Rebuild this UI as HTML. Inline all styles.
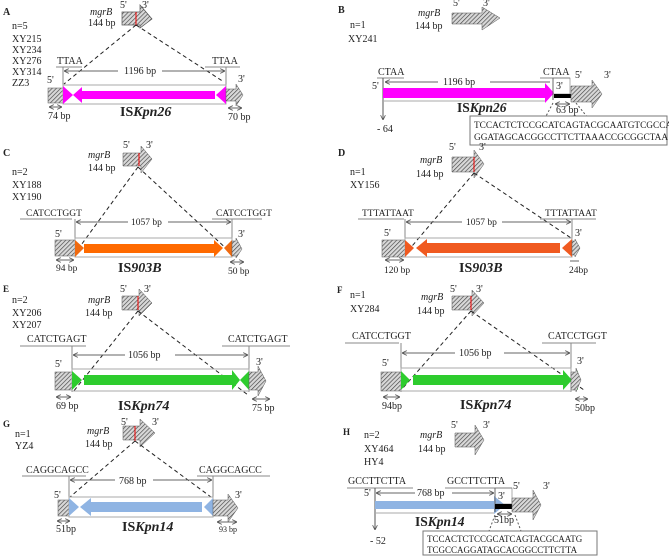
<!DOCTYPE html>
<html><head><meta charset="utf-8"><style>
html,body{margin:0;padding:0;background:#fff}
svg{display:block}
text{font-family:"Liberation Serif",serif;fill:#222}
</style></head><body>
<svg width="669" height="556" viewBox="0 0 669 556" xmlns="http://www.w3.org/2000/svg">
<defs>
<pattern id="h" width="3" height="3" patternUnits="userSpaceOnUse" patternTransform="rotate(45)">
<rect width="3" height="3" fill="#d8d8d8"/><line x1="0" y1="0" x2="0" y2="3" stroke="#444" stroke-width="1.3"/>
</pattern>
<marker id="a" viewBox="0 0 6 6" refX="6" refY="3" markerWidth="5" markerHeight="5" orient="auto-start-reverse"><path d="M0,0 L6,3 L0,6" fill="none" stroke="#555" stroke-width="1"/></marker>
</defs>
<g font-size="10">
<!-- ===== A ===== -->
<text x="3" y="15" font-weight="bold" font-size="10">A</text>
<text x="12" y="29">n=5</text>
<text x="12" y="42">XY215</text><text x="12" y="53">XY234</text><text x="12" y="64">XY276</text><text x="12" y="75">XY314</text><text x="12" y="86">ZZ3</text>
<text x="90" y="15" font-style="italic">mgrB</text><text x="88" y="26">144 bp</text>
<text x="120" y="8">5'</text><text x="142" y="8">3'</text>
<polygon points="122,12 140,12 140,5 152,19 140,28 140,25 122,25" fill="url(#h)" stroke="#555" stroke-width="0.7"/>
<line x1="136" y1="12" x2="136" y2="26" stroke="#e00" stroke-width="1"/>
<line x1="136" y1="25" x2="64" y2="84" stroke="#222" stroke-dasharray="4,3"/>
<line x1="136" y1="25" x2="224" y2="82" stroke="#222" stroke-dasharray="4,3"/>
<text x="57" y="64">TTAA</text><line x1="56" y1="67" x2="82" y2="67" stroke="#888"/>
<text x="212" y="64">TTAA</text><line x1="205" y1="67" x2="240" y2="67" stroke="#888"/>
<line x1="63" y1="67" x2="63" y2="104" stroke="#888"/><line x1="226" y1="67" x2="226" y2="104" stroke="#888"/>
<line x1="64" y1="71" x2="118" y2="71" stroke="#666" marker-start="url(#a)"/><line x1="162" y1="71" x2="225" y2="71" stroke="#666" marker-end="url(#a)"/>
<text x="124" y="74">1196 bp</text>
<text x="47" y="83">5'</text><text x="238" y="82">3'</text>
<rect x="48" y="88" width="15" height="15" fill="url(#h)" stroke="#555" stroke-width="0.5"/>
<rect x="63" y="85" width="163" height="19" fill="none" stroke="#aaa"/>
<polygon points="63,86 73,95 63,104" fill="#f0f"/>
<polygon points="73,95 82,87 82,91 215,91 215,99 82,99 82,103" fill="#f0f"/>
<polygon points="226,86 216,95 226,104" fill="#f0f"/>
<polygon points="226,89 236,89 236,84 243,95 236,106 236,101 226,101" fill="url(#h)" stroke="#555" stroke-width="0.5"/>
<line x1="49" y1="107" x2="62" y2="107" stroke="#666" marker-start="url(#a)" marker-end="url(#a)"/>
<line x1="228" y1="108" x2="242" y2="108" stroke="#666" marker-start="url(#a)" marker-end="url(#a)"/>
<text x="48" y="119">74 bp</text><text x="228" y="120">70 bp</text>
<text x="120" y="116" font-size="14" font-weight="bold">IS<tspan font-style="italic">Kpn26</tspan></text>

<!-- ===== B ===== -->
<text x="338" y="13" font-weight="bold">B</text>
<text x="350" y="28">n=1</text><text x="348" y="42">XY241</text>
<text x="418" y="16" font-style="italic">mgrB</text><text x="415" y="29">144 bp</text>
<text x="453" y="6">5'</text><text x="483" y="6">3'</text>
<polygon points="452,13 482,13 482,7 500,18 482,30 482,24 452,24" fill="url(#h)" stroke="#555" stroke-width="0.5"/>
<text x="378" y="75">CTAA</text><line x1="377" y1="78" x2="404" y2="78" stroke="#888"/>
<text x="543" y="75">CTAA</text><line x1="540" y1="78" x2="570" y2="78" stroke="#888"/>
<text x="372" y="89">5'</text>
<line x1="383" y1="78" x2="383" y2="120" stroke="#555" marker-end="url(#a)"/>
<text x="377" y="132">- 64</text>
<line x1="385" y1="82" x2="438" y2="82" stroke="#666" marker-start="url(#a)"/><line x1="490" y1="82" x2="550" y2="82" stroke="#666"/>
<text x="443" y="85">1196 bp</text>
<polygon points="383,88 545,88 545,83 554,93 545,103 545,98 383,98" fill="#f0f"/>
<line x1="383" y1="101" x2="545" y2="101" stroke="#aaa"/>
<line x1="553" y1="78" x2="553" y2="100" stroke="#555"/>
<rect x="553" y="78" width="17" height="16" fill="none" stroke="#777" stroke-width="0.6"/>
<text x="556" y="89">3'</text>
<rect x="554" y="94" width="17" height="4" fill="#000"/>
<text x="575" y="78">5'</text><text x="604" y="78">3'</text>
<polygon points="571,86 592,86 592,80 602,94 592,108 592,102 571,102" fill="url(#h)" stroke="#555" stroke-width="0.5"/>
<line x1="555" y1="104" x2="570" y2="104" stroke="#666" marker-start="url(#a)" marker-end="url(#a)"/>
<text x="556" y="113">63 bp</text>
<line x1="553" y1="103" x2="545" y2="118" stroke="#555" stroke-dasharray="2,2"/>
<line x1="576" y1="103" x2="588" y2="118" stroke="#555" stroke-dasharray="2,2"/>
<text x="457" y="112" font-size="13.5" font-weight="bold">IS<tspan font-style="italic">Kpn26</tspan></text>
<rect x="470" y="116" width="197" height="29" fill="#fff" stroke="#777"/>
<text x="474" y="128" font-size="9.3">TCCACTCTCCGCATCAGTACGCAATGTCGCCA</text>
<text x="474" y="140" font-size="9.3">GGATAGCACGGCCTTCTTAAACCGCGGCTAA</text>

<!-- ===== C ===== -->
<text x="3" y="156" font-weight="bold">C</text>
<text x="12" y="175">n=2</text><text x="12" y="188">XY188</text><text x="12" y="200">XY190</text>
<text x="88" y="158" font-style="italic">mgrB</text><text x="88" y="171">144 bp</text>
<text x="123" y="148">5'</text><text x="146" y="148">3'</text>
<polygon points="123,153 141,153 141,146 152,159 141,173 141,166 123,166" fill="url(#h)" stroke="#555" stroke-width="0.5"/>
<line x1="139" y1="153" x2="139" y2="166" stroke="#e00"/>
<line x1="138" y1="167" x2="76" y2="252" stroke="#222" stroke-dasharray="4,3"/>
<line x1="138" y1="167" x2="230" y2="252" stroke="#222" stroke-dasharray="4,3"/>
<text x="26" y="216" font-size="9.5">CATCCTGGT</text><line x1="20" y1="219" x2="72" y2="219" stroke="#888"/>
<text x="216" y="216" font-size="9.5">CATCCTGGT</text><line x1="212" y1="219" x2="262" y2="219" stroke="#888"/>
<line x1="75" y1="219" x2="75" y2="257" stroke="#888"/><line x1="232" y1="219" x2="232" y2="257" stroke="#888"/>
<line x1="76" y1="222" x2="128" y2="222" stroke="#666" marker-start="url(#a)"/><line x1="168" y1="222" x2="231" y2="222" stroke="#666" marker-end="url(#a)"/>
<text x="131" y="225" font-size="9.5">1057 bp</text>
<text x="55" y="237">5'</text><text x="238" y="237">3'</text>
<rect x="55" y="240" width="20" height="16" fill="url(#h)" stroke="#555" stroke-width="0.5"/>
<rect x="75" y="238" width="157" height="19" fill="none" stroke="#aaa"/>
<polygon points="75,240 84,248 75,257" fill="#f06a10"/>
<polygon points="84,244 214,244 214,240 223,248 214,257 214,253 84,253" fill="#ff6a00"/>
<polygon points="232,240 224,248 232,257" fill="#f06a10"/>
<polygon points="232,241 236,241 236,238 242,249 236,258 236,256 232,256" fill="url(#h)" stroke="#555" stroke-width="0.5"/>
<line x1="56" y1="260" x2="74" y2="260" stroke="#666" marker-start="url(#a)" marker-end="url(#a)"/>
<line x1="230" y1="262" x2="244" y2="262" stroke="#666" marker-start="url(#a)" marker-end="url(#a)"/>
<text x="56" y="271" font-size="9.5">94 bp</text><text x="228" y="274" font-size="9.5">50 bp</text>
<text x="118" y="272" font-size="14" font-weight="bold">IS<tspan font-style="italic">903B</tspan></text>

<!-- ===== D ===== -->
<text x="338" y="156" font-weight="bold">D</text>
<text x="350" y="175">n=1</text><text x="350" y="188">XY156</text>
<text x="420" y="163" font-style="italic">mgrB</text><text x="416" y="177">144 bp</text>
<text x="449" y="150">5'</text><text x="479" y="150">3'</text>
<polygon points="452,157 474,157 474,150 484,164 474,178 474,172 452,172" fill="url(#h)" stroke="#555" stroke-width="0.5"/>
<line x1="474" y1="157" x2="474" y2="172" stroke="#e00"/>
<line x1="474" y1="173" x2="407" y2="252" stroke="#222" stroke-dasharray="4,3"/>
<line x1="474" y1="173" x2="571" y2="238" stroke="#222" stroke-dasharray="4,3"/>
<text x="362" y="216" font-size="9.5">TTTATTAAT</text><line x1="358" y1="219" x2="404" y2="219" stroke="#888"/>
<text x="545" y="216" font-size="9.5">TTTATTAAT</text><line x1="540" y1="219" x2="596" y2="219" stroke="#888"/>
<line x1="405" y1="219" x2="405" y2="257" stroke="#888"/><line x1="572" y1="219" x2="572" y2="257" stroke="#888"/>
<line x1="406" y1="222" x2="462" y2="222" stroke="#666" marker-start="url(#a)"/><line x1="502" y1="222" x2="571" y2="222" stroke="#666" marker-end="url(#a)"/>
<text x="466" y="225" font-size="9.5">1057 bp</text>
<text x="384" y="236">5'</text><text x="575" y="236">3'</text>
<rect x="382" y="240" width="23" height="17" fill="url(#h)" stroke="#555" stroke-width="0.5"/>
<rect x="405" y="238" width="167" height="19" fill="none" stroke="#aaa"/>
<polygon points="405,240 414,248 405,257" fill="#f05a20"/>
<polygon points="416,248 427,239 427,243 560,243 560,253 427,253 427,257" fill="#f05a20"/>
<polygon points="572,239 562,248 572,257" fill="#f05a20"/>
<polygon points="572,241 575,241 575,239 580,248 575,257 575,255 572,255" fill="url(#h)" stroke="#555" stroke-width="0.5"/>
<line x1="385" y1="260" x2="404" y2="260" stroke="#666" marker-start="url(#a)" marker-end="url(#a)"/>
<line x1="570" y1="261" x2="579" y2="261" stroke="#666"/>
<text x="384" y="273" font-size="9.5">120 bp</text><text x="569" y="273" font-size="9.5">24bp</text>
<text x="459" y="272" font-size="14" font-weight="bold">IS<tspan font-style="italic">903B</tspan></text>

<!-- ===== E ===== -->
<text x="3" y="292" font-weight="bold" font-size="9">E</text>
<text x="12" y="303">n=2</text><text x="12" y="316">XY206</text><text x="12" y="328">XY207</text>
<text x="88" y="303" font-style="italic">mgrB</text><text x="85" y="316">144 bp</text>
<text x="120" y="292">5'</text><text x="144" y="292">3'</text>
<polygon points="122,296 139,296 139,289 152,303 139,316 139,310 122,310" fill="url(#h)" stroke="#555" stroke-width="0.5"/>
<line x1="138" y1="296" x2="138" y2="310" stroke="#e00"/>
<line x1="138" y1="311" x2="73" y2="392" stroke="#222" stroke-dasharray="4,3"/>
<line x1="138" y1="311" x2="248" y2="395" stroke="#222" stroke-dasharray="4,3"/>
<text x="27" y="342">CATCTGAGT</text><line x1="20" y1="346" x2="86" y2="346" stroke="#888"/>
<text x="228" y="342">CATCTGAGT</text><line x1="222" y1="346" x2="290" y2="346" stroke="#888"/>
<line x1="72" y1="346" x2="72" y2="392" stroke="#888"/><line x1="249" y1="346" x2="249" y2="392" stroke="#888"/>
<line x1="73" y1="355" x2="125" y2="355" stroke="#666" marker-start="url(#a)"/><line x1="175" y1="355" x2="248" y2="355" stroke="#666" marker-end="url(#a)"/>
<text x="128" y="358">1056 bp</text>
<text x="55" y="367">5'</text><text x="256" y="365">3'</text>
<rect x="55" y="372" width="17" height="18" fill="url(#h)" stroke="#555" stroke-width="0.5"/>
<rect x="72" y="369" width="177" height="22" fill="none" stroke="#aaa"/>
<polygon points="72,371 82,380 72,390" fill="#2ecc2e"/>
<polygon points="84,375 232,375 232,370 240,380 232,390 232,385 84,385" fill="#2ecc2e"/>
<polygon points="249,371 240,380 249,390" fill="#2ecc2e"/>
<polygon points="249,372 258,372 258,366 266,381 258,396 258,390 249,390" fill="url(#h)" stroke="#555" stroke-width="0.5"/>
<line x1="56" y1="397" x2="71" y2="397" stroke="#666" marker-start="url(#a)" marker-end="url(#a)"/>
<line x1="252" y1="399" x2="270" y2="399" stroke="#666" marker-start="url(#a)" marker-end="url(#a)"/>
<text x="56" y="409">69 bp</text><text x="252" y="411">75 bp</text>
<text x="118" y="410" font-size="14" font-weight="bold">IS<tspan font-style="italic">Kpn74</tspan></text>

<!-- ===== F ===== -->
<text x="337" y="293" font-weight="bold" font-size="9">F</text>
<text x="350" y="298">n=1</text><text x="350" y="312">XY284</text>
<text x="421" y="300" font-style="italic">mgrB</text><text x="417" y="314">144 bp</text>
<text x="450" y="292">5'</text><text x="476" y="292">3'</text>
<polygon points="452,296 472,296 472,290 484,303 472,316 472,310 452,310" fill="url(#h)" stroke="#555" stroke-width="0.5"/>
<line x1="471" y1="296" x2="471" y2="310" stroke="#e00"/>
<line x1="471" y1="311" x2="402" y2="389" stroke="#222" stroke-dasharray="4,3"/>
<line x1="471" y1="311" x2="584" y2="390" stroke="#222" stroke-dasharray="4,3"/>
<text x="352" y="339">CATCCTGGT</text><line x1="345" y1="343" x2="399" y2="343" stroke="#888"/>
<text x="548" y="339">CATCCTGGT</text><line x1="542" y1="343" x2="596" y2="343" stroke="#888"/>
<line x1="401" y1="343" x2="401" y2="392" stroke="#888"/><line x1="571" y1="343" x2="571" y2="392" stroke="#888"/>
<line x1="402" y1="353" x2="455" y2="353" stroke="#666" marker-start="url(#a)"/><line x1="504" y1="353" x2="570" y2="353" stroke="#666" marker-end="url(#a)"/>
<text x="459" y="356">1056 bp</text>
<text x="382" y="366">5'</text><text x="577" y="364">3'</text>
<rect x="381" y="372" width="20" height="19" fill="url(#h)" stroke="#555" stroke-width="0.5"/>
<rect x="401" y="368" width="170" height="23" fill="none" stroke="#aaa"/>
<polygon points="401,371 410,380 401,390" fill="#2ecc2e"/>
<polygon points="413,375 563,375 563,370 572,380 563,390 563,385 413,385" fill="#2ecc2e"/>
<polygon points="578,371 571,380 578,390" fill="#2ecc2e"/>
<polygon points="571,372 576,372 576,368 581,380 576,392 576,390 571,390" fill="url(#h)" stroke="#555" stroke-width="0.5"/>
<line x1="383" y1="397" x2="400" y2="397" stroke="#666" marker-start="url(#a)" marker-end="url(#a)"/>
<line x1="575" y1="399" x2="588" y2="399" stroke="#666" marker-start="url(#a)" marker-end="url(#a)"/>
<text x="382" y="409">94bp</text><text x="575" y="411">50bp</text>
<text x="460" y="409" font-size="14" font-weight="bold">IS<tspan font-style="italic">Kpn74</tspan></text>

<!-- ===== G ===== -->
<text x="3" y="427" font-weight="bold" font-size="9">G</text>
<text x="15" y="437">n=1</text><text x="15" y="449">YZ4</text>
<text x="87" y="434" font-style="italic">mgrB</text><text x="85" y="447">144 bp</text>
<text x="121" y="425">5'</text><text x="152" y="425">3'</text>
<polygon points="123,426 140,426 140,419 155,433 140,447 140,440 123,440" fill="url(#h)" stroke="#555" stroke-width="0.5"/>
<line x1="135" y1="426" x2="135" y2="441" stroke="#e00"/>
<line x1="135" y1="441" x2="70" y2="497" stroke="#222" stroke-dasharray="4,3"/>
<line x1="135" y1="441" x2="211" y2="497" stroke="#222" stroke-dasharray="4,3"/>
<text x="26" y="473">CAGGCAGCC</text><line x1="22" y1="476" x2="86" y2="476" stroke="#888"/>
<text x="199" y="473">CAGGCAGCC</text><line x1="197" y1="476" x2="270" y2="476" stroke="#888"/>
<line x1="69" y1="476" x2="69" y2="517" stroke="#888"/><line x1="213" y1="476" x2="213" y2="517" stroke="#888"/>
<line x1="70" y1="480" x2="115" y2="480" stroke="#666" marker-start="url(#a)"/><line x1="153" y1="480" x2="212" y2="480" stroke="#666" marker-end="url(#a)"/>
<text x="119" y="484">768 bp</text>
<text x="54" y="498">5'</text><text x="235" y="498">3'</text>
<rect x="58" y="500" width="11" height="16" fill="url(#h)" stroke="#555" stroke-width="0.5"/>
<rect x="69" y="497" width="144" height="20" fill="none" stroke="#aaa"/>
<polygon points="69,498 79,507 69,516" fill="#8fb4e3"/>
<polygon points="80,507 91,498 91,502 202,502 202,512 91,512 91,516" fill="#8fb4e3"/>
<polygon points="213,498 204,507 213,516" fill="#8fb4e3"/>
<polygon points="213,500 228,500 228,494 238,508 228,522 228,516 213,516" fill="url(#h)" stroke="#555" stroke-width="0.5"/>
<line x1="57" y1="521" x2="70" y2="521" stroke="#666" marker-start="url(#a)" marker-end="url(#a)"/>
<line x1="217" y1="522" x2="237" y2="522" stroke="#666" marker-start="url(#a)" marker-end="url(#a)"/>
<text x="56" y="532">51bp</text><text x="219" y="532" font-size="8">93 bp</text>
<text x="122" y="531" font-size="14" font-weight="bold">IS<tspan font-style="italic">Kpn14</tspan></text>

<!-- ===== H ===== -->
<text x="343" y="435" font-weight="bold" font-size="9">H</text>
<text x="364" y="438">n=2</text><text x="364" y="452">XY464</text><text x="364" y="465">HY4</text>
<text x="420" y="438" font-style="italic">mgrB</text><text x="418" y="452">144 bp</text>
<text x="451" y="428">5'</text><text x="483" y="428">3'</text>
<polygon points="455,433 475,433 475,425 484,440 475,455 475,447 455,447" fill="url(#h)" stroke="#555" stroke-width="0.5"/>
<text x="348" y="484">GCCTTCTTA</text><line x1="347" y1="488" x2="413" y2="488" stroke="#888"/>
<text x="447" y="484">GCCTTCTTA</text><line x1="445" y1="488" x2="512" y2="488" stroke="#888"/>
<text x="364" y="496">5'</text>
<line x1="375" y1="488" x2="375" y2="530" stroke="#555" marker-end="url(#a)"/>
<text x="370" y="544">- 52</text>
<line x1="376" y1="493" x2="415" y2="493" stroke="#666" marker-start="url(#a)"/><line x1="452" y1="493" x2="494" y2="493" stroke="#666" marker-end="url(#a)"/>
<text x="417" y="496">768 bp</text>
<polygon points="375,501 494,501 494,496 505,505 494,514 494,509 375,509" fill="#8fb4e3"/>
<line x1="375" y1="513" x2="494" y2="513" stroke="#aaa"/>
<line x1="495" y1="488" x2="495" y2="512" stroke="#555"/>
<rect x="495" y="488" width="17" height="16" fill="none" stroke="#777" stroke-width="0.6"/>
<text x="498" y="499">3'</text>
<rect x="495" y="504" width="17" height="5" fill="#000"/>
<text x="513" y="489">5'</text><text x="543" y="489">3'</text>
<polygon points="512,498 533,498 533,490 541,505 533,520 533,512 512,512" fill="url(#h)" stroke="#555" stroke-width="0.5"/>
<line x1="497" y1="514" x2="512" y2="514" stroke="#666" marker-start="url(#a)" marker-end="url(#a)"/>
<text x="494" y="523">51bp</text>
<line x1="495" y1="515" x2="489" y2="531" stroke="#555" stroke-dasharray="2,2"/>
<line x1="515" y1="515" x2="521" y2="531" stroke="#555" stroke-dasharray="2,2"/>
<text x="415" y="526" font-size="13.5" font-weight="bold">IS<tspan font-style="italic">Kpn14</tspan></text>
<rect x="423" y="531" width="174" height="24" fill="#fff" stroke="#777"/>
<text x="427" y="542" font-size="9">TCCACTCTCCGCATCAGTACGCAATG</text>
<text x="427" y="553" font-size="9">TCGCCAGGATAGCACGGCCTTCTTA</text>
</g>
</svg>
</body></html>
